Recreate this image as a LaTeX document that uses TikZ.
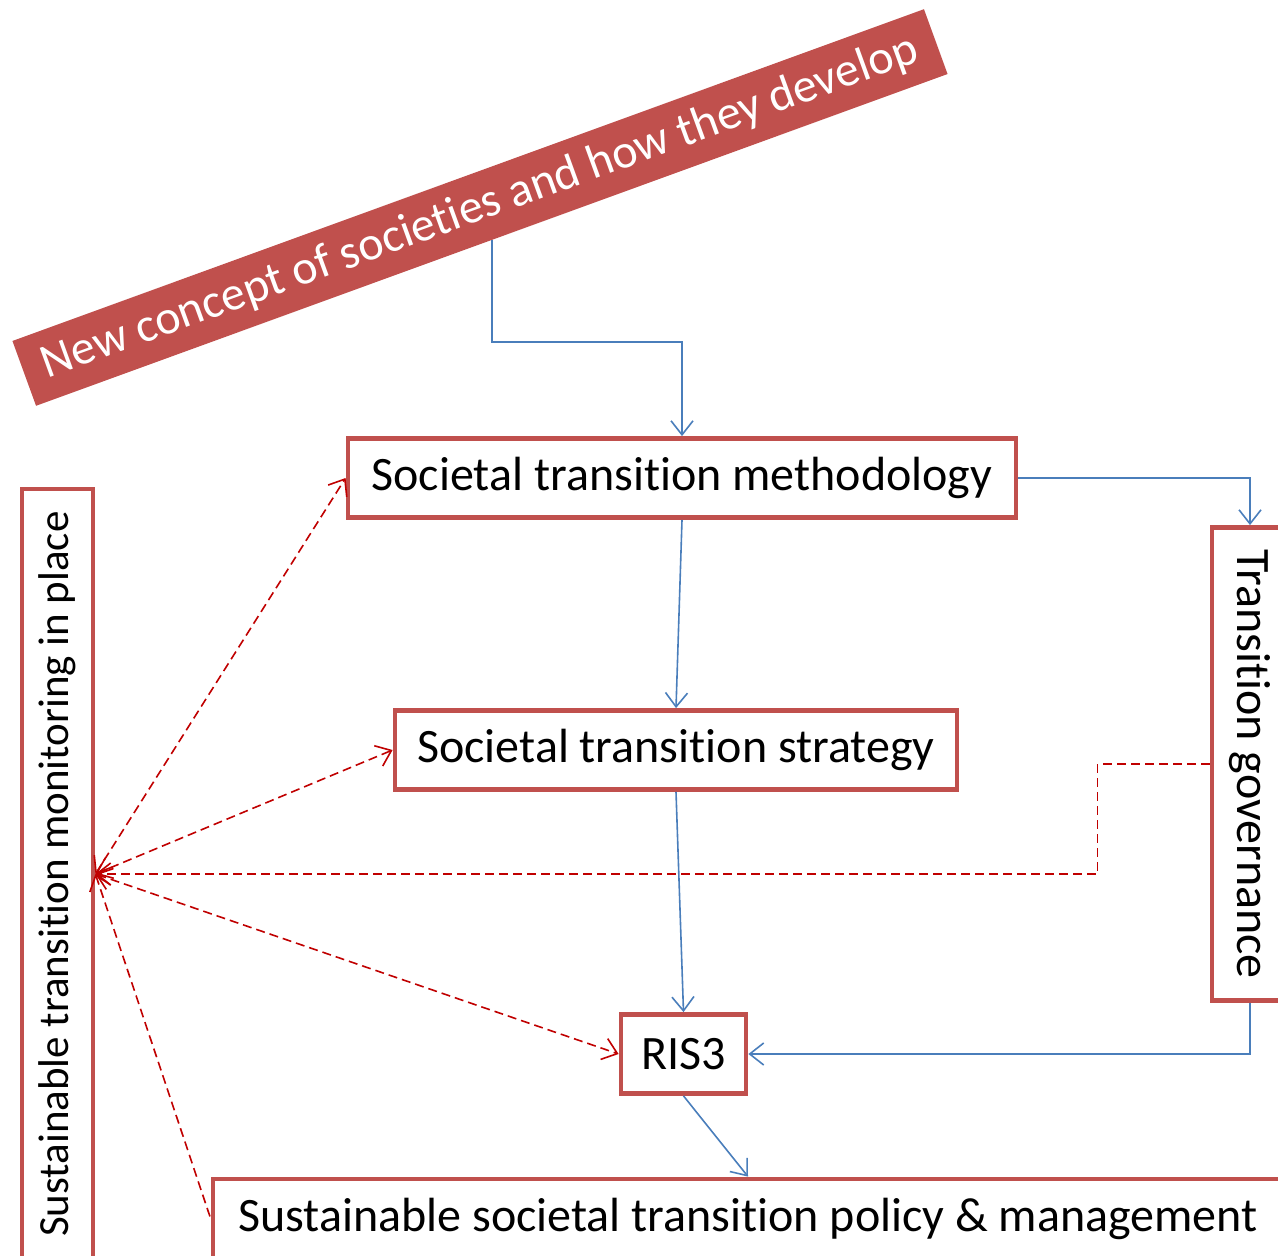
\documentclass[tikz,border=0pt]{standalone}
\usepackage{fontspec}
\setmainfont{Carlito}[Ligatures = {NoCommon, NoContextual}, RawFeature = {-liga;-clig;-dlig}]
\usetikzlibrary{calc, arrows.meta, positioning}
\definecolor{boxred}{HTML}{C0504D}
\definecolor{lineblue}{HTML}{4A7EBB}
\definecolor{dashred}{HTML}{C00000}
\tikzset{
    stepbox/.style = {draw = boxred, line width = 2.4pt, fill = white, inner sep = 0pt, font = \fontsize{24}{28}\selectfont, minimum height = 39.5pt},
    flow/.style = {draw = lineblue, line width = 0.8pt, ->},
    feedback/.style = {draw = dashred, line width = 0.8pt, dash pattern = on 4.5pt off 2.5pt}
}

\begin{document}
\begin{tikzpicture}[x = 0.5pt, y = -0.5pt, >={Straight Barb[length = 7pt, width = 11pt]}]
    \clip (0,0) rectangle (1278,1256);

    %banner
    \node (banner) at (480,207.5) [rotate = 20, fill = boxred, text = white, minimum width = 485pt, minimum height = 34.5pt, inner sep = 0pt, font = \fontsize{24}{28}\selectfont] {New concept of societies and how they develop};

    %boxes
    \node[stepbox, minimum width = 334pt] (method) at (682,478) {Societal transition methodology};
    \node[stepbox, minimum width = 281pt] (strategy) at (676,750) {Societal transition strategy};
    \node[stepbox, minimum width = 62.5pt] (ris) at (683.5,1054) {RIS3};
    \node[stepbox, minimum width = 535pt] (policy) at (748,1218.5) {Sustainable societal transition policy \& management};
    %rotated boxes: gov.west is the top, monitor.south the right side
    \node[stepbox, minimum width = 236.5pt, minimum height = 38pt, rotate = -90] (gov) at (1250,764) {Transition governance};
    \node[stepbox, minimum width = 385pt, minimum height = 35.5pt, rotate = 90, font = \fontsize{21.5}{25}\selectfont] (monitor) at (57.5,874) {Sustainable transition monitoring in place};

    \coordinate (hub) at (monitor.south);
    \coordinate (bend) at (0,342);

    %flow
    \draw[flow] (banner.south) -- (banner.south |- bend) -| (method.north);
    \draw[flow] (method.east) -| (gov.west);
    \draw[flow] (method.south) -- (strategy.north);
    \draw[flow] (strategy.south) -- (ris.north);
    \draw[flow] (gov.east) |- (ris.east);
    \draw[flow] (ris.south) -- (policy.north);

    %monitoring
    \draw[feedback, <->] (hub) -- (method.west);
    \draw[feedback, <->] (hub) -- (strategy.west);
    \draw[feedback, <->] (hub) -- (ris.west);
    \draw[feedback, <-] (hub) -- (policy.west);
    \draw[feedback, ->] (gov.south) -- ++(-112,0) |- (hub);
\end{tikzpicture}
\end{document}
